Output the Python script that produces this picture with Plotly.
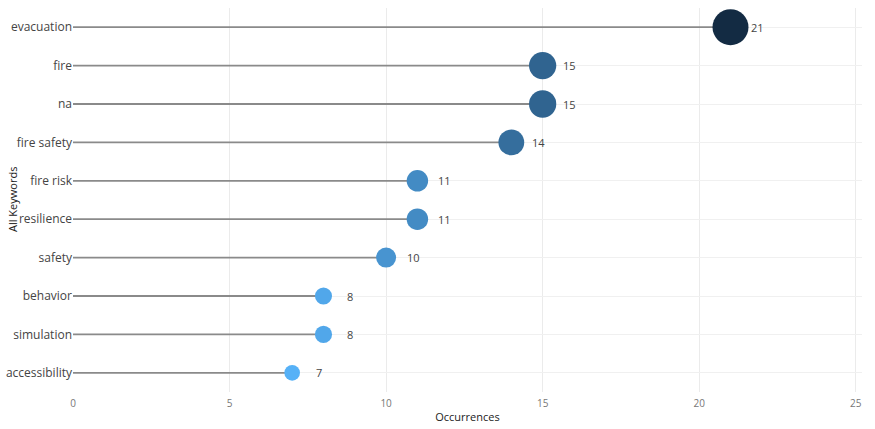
import plotly.graph_objects as go

keywords = ["evacuation", "fire", "na", "fire safety", "fire risk", "resilience",
            "safety", "behavior", "simulation", "accessibility"]
occurrences = [21, 15, 15, 14, 11, 11, 10, 8, 8, 7]
x_ticks = [0, 5, 10, 15, 20, 25]

# stems
sx, sy = [], []
for k, v in zip(keywords, occurrences):
    sx += [0, v, None]
    sy += [k, k, None]

sizes = [v * 1.45 + 5.5 for v in occurrences]

fig = go.Figure()
fig.add_trace(go.Scatter(x=sx, y=sy, mode="lines",
                         line=dict(color="#8a8a8a", width=1.8),
                         hoverinfo="skip", showlegend=False))
fig.add_trace(go.Scatter(
    x=occurrences, y=keywords, mode="markers",
    marker=dict(size=sizes, sizemode="diameter", color=occurrences,
                colorscale=[[0, "#56B1F7"], [1, "#132B43"]],
                cmin=min(occurrences), cmax=max(occurrences),
                line=dict(width=0), opacity=1),
    showlegend=False))

for k, v in zip(keywords, occurrences):
    fig.add_annotation(x=v, y=k, text=str(v), showarrow=False, xshift=27,
                       font=dict(size=11, color="#444444", family="Open Sans"))

# y-axis title as annotation for precise placement
fig.add_annotation(xref="paper", yref="paper", x=-61 / 789, y=0.5,
                   xanchor="center", yanchor="middle", textangle=-90,
                   text="All Keywords", showarrow=False,
                   font=dict(size=11, color="#222222", family="Open Sans"))

fig.update_layout(
    width=875, height=429,
    margin=dict(l=73, r=13, t=8, b=37, autoexpand=False),
    paper_bgcolor="white", plot_bgcolor="white",
    font=dict(family="Open Sans", color="#333333"),
    xaxis=dict(range=[0, 25.2], tickvals=x_ticks, showgrid=True, automargin=False,
               gridcolor="#ebebeb", gridwidth=1, zeroline=False,
               showline=False, ticks="", ticklabelstandoff=4,
               tickfont=dict(size=10, color="#777777"),
               title=dict(text="Occurrences", font=dict(size=11, color="#222222"),
                          standoff=4)),
    yaxis=dict(categoryorder="array", categoryarray=keywords[::-1], automargin=False,
               range=[-0.5, 9.5], showgrid=True, gridcolor="#f0f0f0",
               zeroline=False, showline=False, ticks="",
               tickfont=dict(size=12, color="#444444")),
)

fig.write_html("out.html", config={"displayModeBar": False},
               post_script="document.body.style.margin='0';document.body.style.overflow='hidden';")
